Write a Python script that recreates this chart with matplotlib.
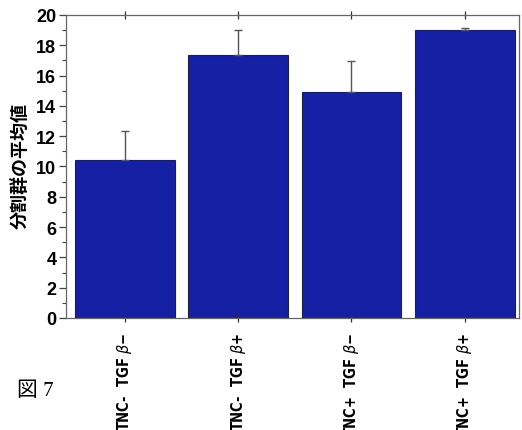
import matplotlib
matplotlib.use('Agg')
import matplotlib.pyplot as plt
import numpy as np
from matplotlib.ticker import MultipleLocator

categories = ['TNC-  TGF $\\beta$\u2212', 'TNC-  TGF $\\beta$+',
              'TNC+  TGF $\\beta$\u2212', 'TNC+  TGF $\\beta$+']
means = [10.43, 17.38, 14.94, 19.03]
errors = [1.93, 1.65, 1.99, 0.09]

bar_color = '#1620a4'

fig = plt.figure(figsize=(5.22, 4.31), dpi=100)
ax = fig.add_axes([0.1264, 0.2599, 0.868, 0.703])

x = np.arange(len(categories))
ax.bar(x, means, width=0.88, color=bar_color, edgecolor='#202040', linewidth=0.8,
       yerr=[np.zeros(len(errors)), errors], capsize=3,
       error_kw=dict(ecolor='#555555', elinewidth=1.0, capthick=1.0))

ax.set_xlim(-0.52, 3.48)
ax.set_ylim(0, 20)
ax.yaxis.set_major_locator(MultipleLocator(2))
ax.yaxis.set_minor_locator(MultipleLocator(1))

for s in ax.spines.values():
    s.set_color('#666666')
    s.set_linewidth(0.9)

ax.tick_params(axis='y', which='major', direction='out', length=5, width=0.9,
               color='#444444', pad=2)
ax.tick_params(axis='y', which='minor', direction='out', length=3, width=0.8,
               color='#444444')
ax.tick_params(axis='x', which='major', direction='inout', length=6, width=0.9,
               color='#333333', top=True, pad=7)

ax.set_xticks(x)
ax.set_xticklabels(categories, rotation=90, va='top', ha='center',
                   fontsize=10.5, fontweight='bold', family='DejaVu Sans',
                   fontstretch='condensed')
for lab in ax.get_yticklabels():
    lab.set_fontsize(13)
    lab.set_fontweight('bold')
    lab.set_family('Liberation Sans')

fig.text(0.038, 0.615, '分割群の平均値', rotation=90, ha='center', va='center',
         fontsize=13, fontweight='bold', family=['Noto Sans CJK JP', 'DejaVu Sans'])
fig.text(0.033, 0.092, '図 7', ha='left', va='center', fontsize=15,
         family=['Liberation Serif', 'Noto Sans CJK JP'])

fig.savefig('out.png', dpi=100)
